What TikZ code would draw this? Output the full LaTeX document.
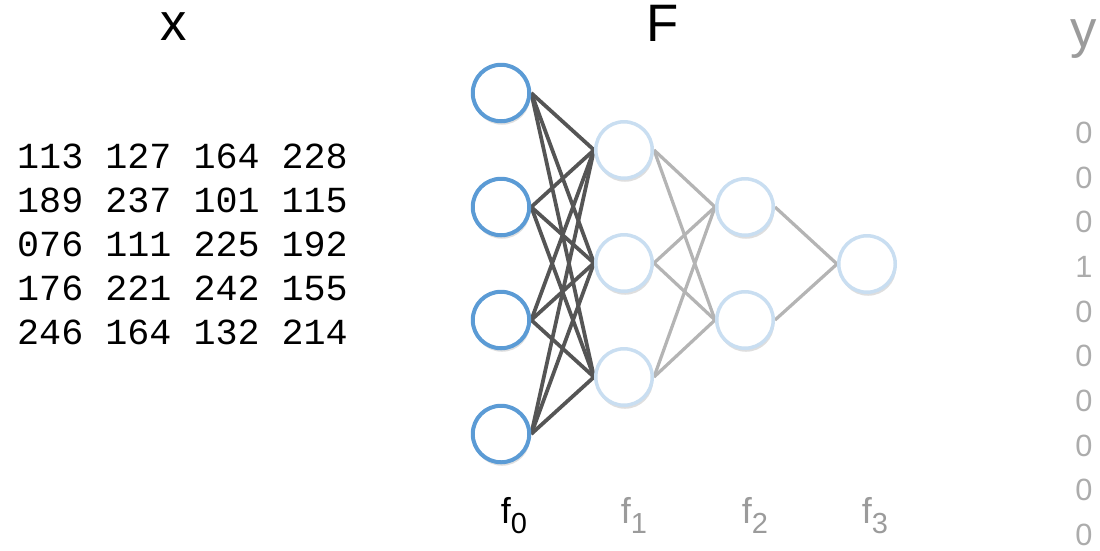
\documentclass[tikz,border=0pt]{standalone}
\usepackage{fontspec}
\setmainfont{Liberation Sans}
\setmonofont{Liberation Mono}
\usepackage{xcolor}
\usepackage{tikz}
\usetikzlibrary{positioning,shadows,backgrounds}
\definecolor{nnBlue}  {RGB}{ 91,155,213}
\definecolor{nnBlueL} {RGB}{201,222,241}
\definecolor{nnEdge}  {RGB}{ 85, 85, 85}
\definecolor{nnEdgeL} {RGB}{180,180,180}
\definecolor{nnGrey}  {RGB}{155,155,155}
\definecolor{nnGreyL} {RGB}{172,172,172}
\newcommand{\layerlab}[1]{f{\fontsize{16.5}{16.5}\selectfont\raisebox{-6pt}{#1}}}

\begin{document}
\begin{tikzpicture}[
  x=0.2mm,y=-0.2mm,
  unit/.style={circle,draw=nnBlueL,line width=0.7mm,fill=white,
               minimum size=11.3mm,inner sep=0pt,
               drop shadow={shadow xshift=0.2mm,shadow yshift=-0.7mm,
                            opacity=0.13,fill=black}},
  inunit/.style={unit,draw=nnBlue,line width=0.8mm},
  wire/.style={draw=nnEdge,line width=0.75mm},
  wireL/.style={draw=nnEdgeL,line width=0.65mm},
  big/.style={font=\fontsize{30}{30}\selectfont,anchor=base,inner sep=0pt},
  mat/.style={font=\ttfamily\fontsize{20.9}{20.9}\selectfont,anchor=base west},
  lab/.style={font=\fontsize{17.5}{17.5}\selectfont,color=nnGreyL,anchor=base},
  flab/.style={font=\fontsize{20.5}{20.5}\selectfont,anchor=base,color=nnGrey}
]
\useasboundingbox (0,0) rectangle (1100,550);

% --- headings
\node[big] (hx) at (174,40) {x};
\node[big] (hF) at (663,41) {F};
\node[big,color=nnGrey] (hy) at (1084,47) {y};

% --- input matrix
\node[mat] (r1) at (11,168) {113 127 164 228};
\node[mat] (r2) at (11,212) {189 237 101 115};
\node[mat] (r3) at (11,256) {076 111 225 192};
\node[mat] (r4) at (11,300) {176 221 242 155};
\node[mat] (r5) at (11,344) {246 164 132 214};

% --- network
\node[inunit] (a1) at (501,93)  {};
\node[inunit] (a2) at (501,207) {};
\node[inunit] (a3) at (501,320) {};
\node[inunit] (a4) at (501,434) {};
\node[unit] (b1) at (624,150) {};
\node[unit] (b2) at (624,263) {};
\node[unit] (b3) at (624,377) {};
\node[unit] (c1) at (745,207) {};
\node[unit] (c2) at (745,320) {};
\node[unit] (d1) at (867,264) {};

\begin{scope}[on background layer]
\foreach \i in {1,...,4}
  \foreach \j in {1,...,3}
    \draw[wire] (a\i.east) -- (b\j.west);
\foreach \i in {1,...,3}
  \foreach \j in {1,2}
    \draw[wireL] (b\i.east) -- (c\j.west);
\draw[wireL] (c1.east) -- (d1.west);
\draw[wireL] (c2.east) -- (d1.west);
\end{scope}

% --- layer names
\node[flab,color=black] (f0) at (514,523) {\layerlab{0}};
\node[flab] (f1) at (634,523) {\layerlab{1}};
\node[flab] (f2) at (755,523) {\layerlab{2}};
\node[flab] (f3) at (875,523) {\layerlab{3}};

% --- target vector
\node[lab] (y1)  at (1084,143) {0};
\node[lab] (y2)  at (1084,188) {0};
\node[lab] (y3)  at (1084,232) {0};
\node[lab] (y4)  at (1084,277) {1};
\node[lab] (y5)  at (1084,322) {0};
\node[lab] (y6)  at (1084,366) {0};
\node[lab] (y7)  at (1084,411) {0};
\node[lab] (y8)  at (1084,456) {0};
\node[lab] (y9)  at (1084,500) {0};
\node[lab] (y10) at (1084,545) {0};
\end{tikzpicture}
\end{document}
